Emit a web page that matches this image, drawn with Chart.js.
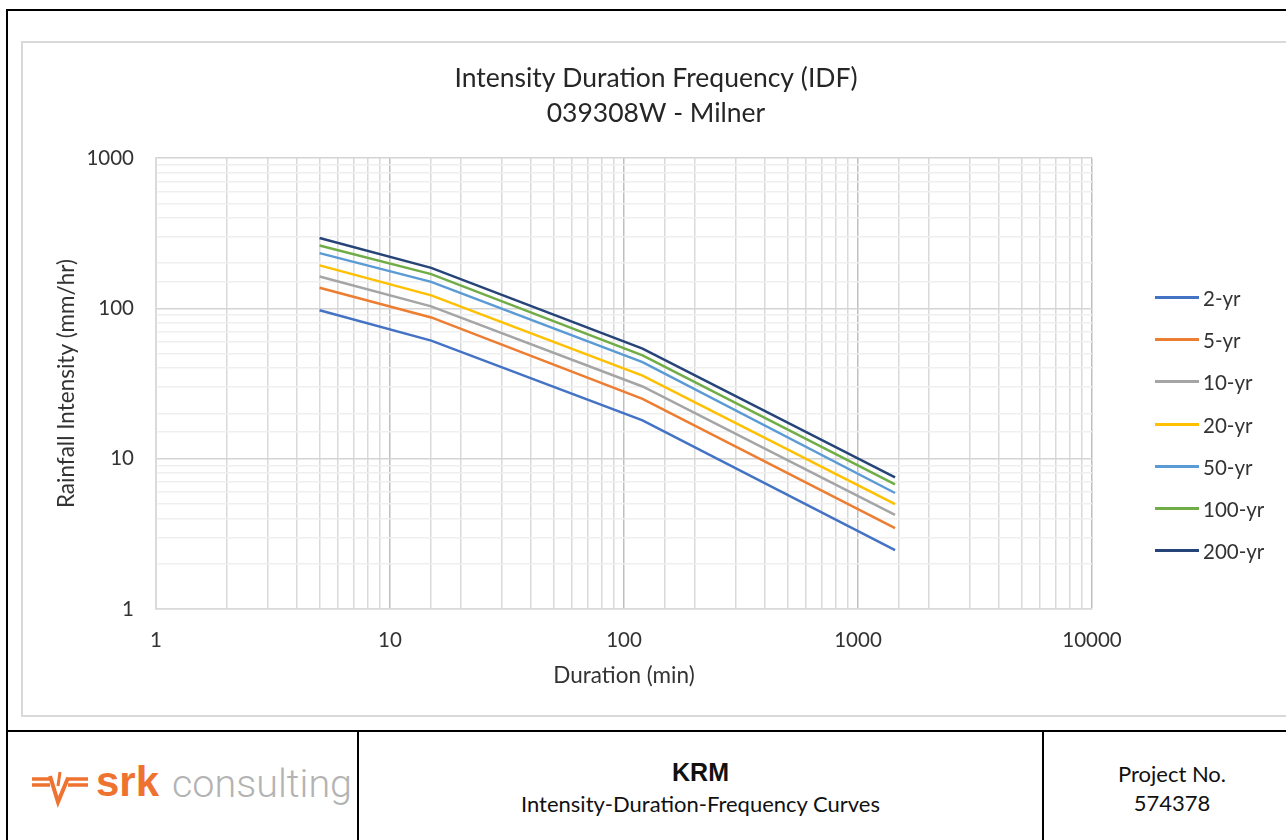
<!DOCTYPE html>
<html>
<head>
<meta charset="utf-8">
<script src="https://cdn.jsdelivr.net/npm/chart.js@4/dist/chart.umd.min.js"></script>
<style>
  html, body { margin: 0; padding: 0; background: #fff; }
  body { width: 1286px; height: 840px; position: relative; overflow: hidden; font-family: Lato, "Open Sans", sans-serif; color: #333; }
  .frame { position: absolute; left: 6px; top: 9px; width: 1320px; height: 900px; border: 2px solid #000; box-sizing: border-box; }
  .chartBox { position: absolute; left: 21px; top: 41px; width: 1300px; height: 676px; border: 2px solid #d9d9d9; box-sizing: border-box; }
  #idf { position: absolute; left: 22px; top: 42px; }
  .hline { position: absolute; left: 6px; top: 730px; width: 1300px; height: 2px; background: #000; }
  .vline { position: absolute; top: 731px; width: 2px; height: 120px; background: #000; }
  .legend { position: absolute; left: 1155px; top: 0; }
  .legend div { position: absolute; left: 0; height: 24px; white-space: nowrap; font-size: 20.5px; line-height: 24px; color: #333; }
  .legend span.swatch { position: absolute; left: 0; top: 10px; width: 44px; height: 3px; }
  .legend span.text { position: absolute; left: 48px; top: 0; }
  .footText { position: absolute; text-align: center; color: #111; }
  .logo { position: absolute; left: 30px; top: 760px; height: 50px; white-space: nowrap; }
</style>
</head>
<body>
<div class="frame"></div>
<div class="chartBox"></div>
<canvas id="idf" width="1268" height="674"></canvas>
<div class="legend" id="legend"></div>

<div class="hline"></div>
<div class="vline" style="left:357px"></div>
<div class="vline" style="left:1042px"></div>

<div class="logo">
  <svg width="60" height="40" viewBox="0 0 60 40" style="position:absolute;left:0;top:10px">
    <path d="M2 9 H22 M2 15 H20 M36 9 H58 M38 15 H58" stroke="#ee7330" stroke-width="3.5" fill="none"/>
    <path d="M20 6 L28 32 L38 8" stroke="#ee7330" stroke-width="4" fill="none" stroke-linejoin="miter"/>
    <path d="M30 2 L28 16" stroke="#ee7330" stroke-width="3" fill="none"/>
  </svg>
  <span style="position:absolute;left:66px;top:-2px;font-family:'Liberation Sans',Arial,sans-serif;font-weight:bold;font-size:42px;color:#ee7330;">srk</span>
  <span style="position:absolute;left:142px;top:0px;font-family:Roboto,sans-serif;font-weight:300;font-size:39.5px;color:#b3b3b3">consulting</span>
</div>

<div class="footText" style="left:359px;width:683px;top:758px;font-family:'Liberation Sans',Arial,sans-serif;font-weight:bold;font-size:25px;">KRM</div>
<div class="footText" style="left:359px;width:683px;top:790px;font-size:22px;">Intensity-Duration-Frequency Curves</div>
<div class="footText" style="left:1044px;width:256px;top:759px;font-size:22px;line-height:29px;">Project No.<br>574378</div>

<script>
// durations (min) and rainfall intensities (mm/hr)
const durations = [5, 15, 120, 1440];
const returnPeriods = ["2-yr", "5-yr", "10-yr", "20-yr", "50-yr", "100-yr", "200-yr"];

const int2yr   = [97, 61, 18.0, 2.46];
const int5yr   = [137, 87, 25.0, 3.45];
const int10yr  = [163, 103, 30.2, 4.23];
const int20yr  = [193, 122, 35.7, 4.99];
const int50yr  = [233, 150, 43.9, 5.91];
const int100yr = [262, 169, 48.6, 6.74];
const int200yr = [294, 186, 53.9, 7.50];

const seriesColors = ["#4472c4", "#ed7d31", "#a5a5a5", "#ffc000", "#5b9bd5", "#70ad47", "#264478"];

const xTickLabels = [1, 10, 100, 1000, 10000];
const yTickLabels = [1, 10, 100, 1000];

const allSeries = [int2yr, int5yr, int10yr, int20yr, int50yr, int100yr, int200yr];

function isPow10(v) {
    const l = Math.log10(v);
    return Math.abs(l - Math.round(l)) < 1e-9;
}

const datasets = allSeries.map((values, i) => ({
    label: returnPeriods[i],
    data: durations.map((d, j) => ({ x: d, y: values[j] })),
    borderColor: seriesColors[i],
    backgroundColor: seriesColors[i],
    borderWidth: 2.5,
    pointRadius: 0,
    tension: 0,
    fill: false
}));

const fontFamily = "Lato, 'Open Sans', sans-serif";
const tickFont = { family: fontFamily, size: 20.5 };
const axisTitleFont = { family: fontFamily, size: 22.5 };

const chart = new Chart(document.getElementById("idf"), {
    type: "line",
    data: { datasets: datasets },
    options: {
        responsive: false,
        animation: false,
        layout: { padding: { left: 28, right: 28, top: 0, bottom: 22.5 } },
        plugins: {
            legend: { display: false },
            tooltip: { enabled: false },
            title: {
                display: true,
                text: ["Intensity Duration Frequency (IDF)", "039308W - Milner"],
                color: "#262626",
                font: { family: fontFamily, size: 26.5, weight: "normal", lineHeight: 35 / 26.5 },
                padding: { top: 18.5, bottom: 27.5 }
            }
        },
        scales: {
            x: {
                type: "logarithmic",
                min: 1,
                max: 10000,
                afterFit: (s) => { s.height = 84.5; },
                grid: {
                    drawTicks: false,
                    lineWidth: 1.5,
                    color: (ctx) => ctx.tick && isPow10(ctx.tick.value) ? "#bfbfbf" : "#d9d9d9"
                },
                border: { color: "#d9d9d9", width: 1.5 },
                ticks: {
                    autoSkip: false,
                    maxRotation: 0,
                    padding: 18.7,
                    color: "#333",
                    font: tickFont,
                    callback: (v) => xTickLabels.includes(v) ? String(v) : ""
                },
                title: {
                    display: true,
                    text: "Duration (min)",
                    color: "#333",
                    font: axisTitleFont,
                    padding: { top: 4, bottom: 4 }
                }
            },
            y: {
                type: "logarithmic",
                min: 1,
                max: 1000,
                afterFit: (s) => { s.width = 106; },
                grid: {
                    drawTicks: false,
                    lineWidth: 1.5,
                    color: (ctx) => ctx.tick && isPow10(ctx.tick.value) ? "#d4d4d4" : "#efefef"
                },
                border: { color: "#d9d9d9", width: 1.5 },
                ticks: {
                    autoSkip: false,
                    padding: 22,
                    color: "#333",
                    font: tickFont,
                    callback: (v) => yTickLabels.includes(v) ? String(v) : ""
                },
                title: {
                    display: true,
                    text: "Rainfall Intensity (mm/hr)",
                    color: "#333",
                    font: axisTitleFont,
                    padding: { top: 3.5, bottom: 4 }
                }
            },
            // empty right-hand band that leaves room for the legend
            legendSpace: {
                type: "linear",
                position: "right",
                afterFit: (s) => { s.width = 170; },
                grid: { display: false, drawTicks: false },
                border: { display: false },
                ticks: { display: false }
            }
        }
    }
});

// legend built from the chart's own datasets
const legend = document.getElementById("legend");
chart.data.datasets.forEach((ds, i) => {
    const item = document.createElement("div");
    item.style.top = (298 - 12 + i * 42.2) + "px";
    item.innerHTML = "<span class='swatch' style='background:" + ds.borderColor + "'></span><span class='text'>" + ds.label + "</span>";
    legend.appendChild(item);
});
</script>
</body>
</html>
